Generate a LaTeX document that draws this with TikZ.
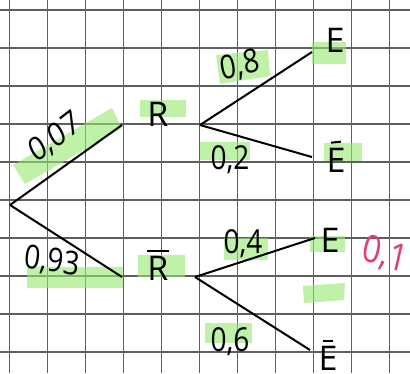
\documentclass[tikz,border=0pt]{standalone}
\usepackage{fontspec}
\setmainfont{Open Sans}
\definecolor{gridc}{RGB}{95,95,95}
\definecolor{hl}{RGB}{150,232,110}
\definecolor{pinkc}{RGB}{226,60,120}
\begin{document}
\begin{tikzpicture}[x=1pt,y=-1pt,
  branch/.style={line width=2pt, black},
  lab/.style={font=\fontsize{34}{34}\selectfont, inner sep=0pt},
  prob/.style={font=\fontsize{33}{33}\selectfont, inner sep=0pt, xscale=0.85},
  barline/.style={line width=2pt, black},
  hlbox/.style={fill=hl, opacity=0.6, draw=none}]
\useasboundingbox (0,0) rectangle (410,373);
\fill[white] (0,0) rectangle (410,373);
% grid
\foreach \i in {0,...,10} \draw[gridc, line width=1.2pt] (9.5+38*\i,0) -- (9.5+38*\i,373);
\foreach \j in {0,...,9} \draw[gridc, line width=1.2pt] (0,10+38*\j) -- (410,10+38*\j);
% highlights
\fill[hlbox] (13,165) -- (25,184) -- (122,128) -- (112,108) -- cycle;
\fill[hlbox] (140,100) rectangle (186,117);
\fill[hlbox] (216,55) -- (268,50) -- (270,76) -- (220,84) -- cycle;
\fill[hlbox] (312,42) rectangle (346,64);
\fill[hlbox] (200,142) rectangle (250,160);
\fill[hlbox] (324,143) rectangle (362,161);
\fill[hlbox] (27,267) rectangle (123,288);
\fill[hlbox] (138,255) rectangle (185,277);
\fill[hlbox] (224,238) rectangle (268,260);
\fill[hlbox] (310,236) rectangle (345,252);
\fill[hlbox] (303,286) -- (345,283) -- (344,300) -- (304,303) -- cycle;
\fill[hlbox] (205,323) rectangle (252,343);
% tree points
\coordinate (O) at (10,205);
\coordinate (Rend) at (122,125);
\coordinate (Rbend) at (122,277);
\coordinate (R1) at (200,125);
\coordinate (R2) at (195,277);
\coordinate (E1) at (312,52);
\coordinate (E2) at (312,157);
\coordinate (E3) at (315,238);
\coordinate (E4) at (310,350);
% labels
\node[lab] (R) at (158,114) {R};
\node[lab] (Rb) at (158,268) {R};
\node[lab] (Ea) at (335,40) {E};
\node[lab] (Eb) at (336,160) {E};
\node[lab] (Ec) at (330,240) {E};
\node[lab] (Ed) at (328,358) {E};
% bars
\draw[barline] ([xshift=-11pt,yshift=5pt]Rb.north) -- ([xshift=11pt,yshift=5pt]Rb.north);
\draw[barline] ([xshift=-5pt,yshift=5pt]Eb.north) -- ([xshift=5pt,yshift=6pt]Eb.north);
\draw[barline] ([xshift=-5pt,yshift=5pt]Ed.north) -- ([xshift=5pt,yshift=5pt]Ed.north);
% branches
\draw[branch] (O) -- (Rend);
\draw[branch] (O) -- (Rbend);
\draw[branch] (R1) -- (E1);
\draw[branch] (R1) -- (E2);
\draw[branch] (R2) -- (E3);
\draw[branch] (R2) -- (E4);
% probabilities
\node[prob, rotate=33] (p1) at (55,138) {0,07};
\node[prob, rotate=-8] (p2) at (52,262) {0,93};
\node[prob, rotate=12] (p3) at (240,66) {0,8};
\node[prob] (p4) at (230,160) {0,2};
\node[prob] (p5) at (243,244) {0,4};
\node[prob] (p6) at (230,342) {0,6};
\node[prob, text=pinkc, rotate=-15, font=\fontsize{38}{38}\selectfont] (p7) at (385,255) {0,1};
\end{tikzpicture}
\end{document}
